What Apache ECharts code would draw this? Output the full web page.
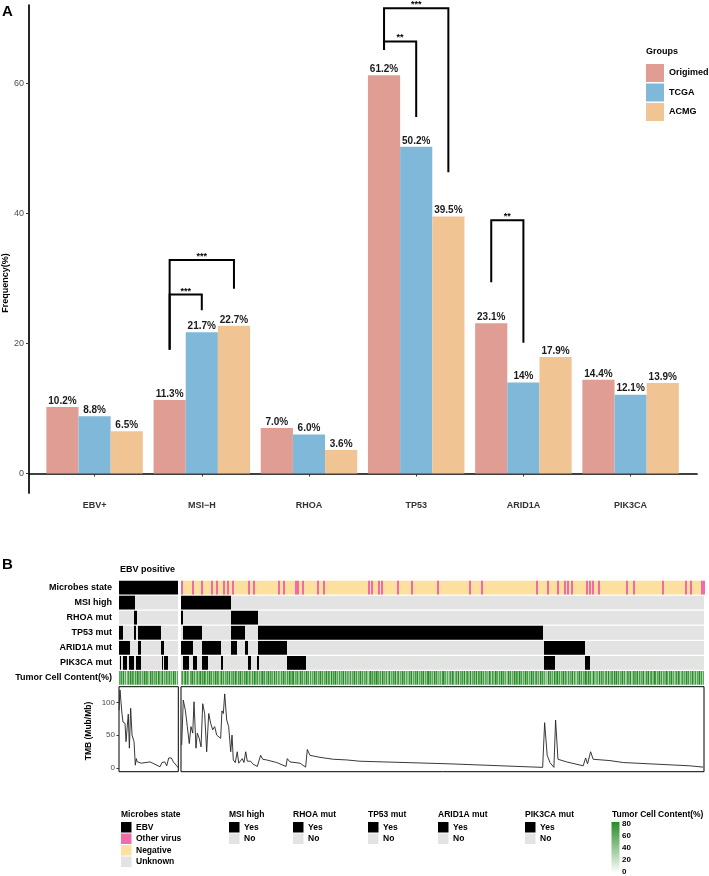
<!DOCTYPE html>
<html><head><meta charset="utf-8">
<script src="https://cdn.jsdelivr.net/npm/echarts@6/dist/echarts.min.js"></script>
<style>html,body{margin:0;padding:0;background:#fff}#c{width:709px;height:876px}</style>
</head><body><div id="c"></div>
<script>
// ---------- Panel A data ----------
const categories = ['EBV+', 'MSI\u2212H', 'RHOA', 'TP53', 'ARID1A', 'PIK3CA'];
const groups = ['Origimed', 'TCGA', 'ACMG'];
const origimed = [10.2, 11.3, 7.0, 61.2, 23.1, 14.4];
const tcga = [8.8, 21.7, 6.0, 50.2, 14.0, 12.1];
const acmg = [6.5, 22.7, 3.6, 39.5, 17.9, 13.9];
const origimedLabels = ['10.2%', '11.3%', '7.0%', '61.2%', '23.1%', '14.4%'];
const tcgaLabels = ['8.8%', '21.7%', '6.0%', '50.2%', '14%', '12.1%'];
const acmgLabels = ['6.5%', '22.7%', '3.6%', '39.5%', '17.9%', '13.9%'];
const freqTicks = [0, 20, 40, 60];
// [category, fromGroup, toGroup, leftLegEnd, top, rightLegEnd, label]
const brackets = [
  [1, 0, 1, 19.0, 27.5, 25.1, '***'],
  [1, 0, 2, 19.0, 32.8, 28.4, '***'],
  [3, 0, 1, 65.1, 66.4, 54.8, '**'],
  [3, 0, 2, 65.1, 71.5, 46.3, '***'],
  [4, 0, 1, 29.4, 38.9, 20.1, '**']
];

// ---------- Panel B data ----------
const rowNames = ['Microbes state', 'MSI high', 'RHOA mut', 'TP53 mut', 'ARID1A mut', 'PIK3CA mut', 'Tumor Cell Content(%)'];
const nEBV = 60;
const nRest = 530;
const msiEBV = [[0, 16]];
const msiRest = [[0, 51]];
const rhoaEBV = [[15, 18]];
const rhoaRest = [[0, 2], [51, 78]];
const tp53EBV = [[0, 4], [15, 17], [19, 43]];
const tp53Rest = [[2, 21], [51, 65], [78, 367]];
const arid1aEBV = [[0, 11], [19, 22], [43, 46]];
const arid1aRest = [[0, 12], [21, 41], [51, 57], [65, 68], [78, 107], [368, 409]];
const pik3caEBV = [[1, 2], [4, 8], [10, 15], [17, 22], [44, 45], [46, 50]];
const pik3caRest = [[2, 8], [12, 16], [21, 27], [41, 43], [68, 71], [77, 79], [107, 127], [368, 379], [409, 414]];
const otherVirusRest = [0, 11, 20, 30, 35, 43, 47, 52, 68, 73, 98, 103, 116, 118, 123, 138, 144, 190, 193, 200, 203, 219,
  233, 259, 292, 304, 360, 371, 381, 388, 391, 395, 410, 413, 416, 423, 451, 458, 487, 511, 516, 527, 529];
// tumor cell content per sample, in tens of percent
const tumorEBV = '6574836257485763748657364857643857465738647583647557463857' + '26';
const tumorRest = [
  '5736847526', '6847357468', '4758637485', '7364857463', '5847365748', '3657486375', '8463758647', '5374865736',
  '4685736584', '7563847365', '3748563748', '6574836574', '4857364857', '2736485736', '5847365847', '6384758463',
  '7465837465', '4736584736', '5847365748', '3685747586', '6473856473', '5836475836', '7364857364', '4758364758',
  '3647583647', '8574638574', '5463748563', '6357486357', '4836574836', '7548365748', '3765847365', '5486375486',
  '6374857463', '4857364857', '2648573648', '5736485736', '7463857463', '4385746385', '6847365847', '5374658374',
  '3658473658', '7485736485', '4563847563', '6738456738', '5847365847', '3476583476', '6583746583', '4758367458',
  '7365847365', '5846375846', '3574863574', '6485736485', '4736584736'
].join('');
// TMB (Mut/Mb) line vertices: [sample position, value]
const tmbEBV = [[0, 88], [1, 119], [3, 83], [4, 70], [6.1, 68], [7.1, 40], [8.4, 42], [9.4, 82], [10.5, 30], [11.8, 91],
  [13.2, 50], [15.2, 40], [16.5, 4], [17.5, 14], [18.5, 9], [19.9, 12], [22.6, 7], [23.6, 10], [31.4, 9], [41.5, 1.5],
  [43.5, 8], [44.9, 6], [46.3, 9], [48.3, 3], [50.3, 15], [53, 15], [55, 9], [58.4, 3], [60, 0]];
const tmbRest = [[0.7, 35], [2.3, 103.5], [4.4, 88], [6.4, 63], [8.4, 37], [10.1, 63], [11.9, 53], [13.2, 101], [15.2, 30],
  [16.5, 53], [18.5, 45], [20.3, 32], [22, 98], [24, 83], [26, 24.5], [28.1, 83], [30.1, 68], [32.1, 58], [34.1, 63],
  [36.2, 50], [38.2, 47], [40.2, 45], [41.5, 87], [42.9, 83], [44.3, 113], [46.3, 73], [48.3, 63], [50.4, 24.5], [51.7, 50],
  [53, 12], [55, 8], [57, 24.5], [58.5, 7], [59.8, 4], [62.1, 14], [63.8, 8], [65.6, 24.5], [67.2, 10], [69.2, 8],
  [70.6, 10], [72.6, 6], [75, 4], [77.3, 2], [80.7, 19], [82.8, 13], [86.8, 12], [97, 8], [106.4, 2], [107.7, 14],
  [110.4, 9], [120.6, 7], [126.3, 1], [128, 28], [130.7, 19], [140.8, 16], [154.3, 13], [167.9, 12], [181.4, 10],
  [205, 9], [272.5, 6], [366.5, 0.6], [368.5, 69], [371.1, 19], [373.9, 8], [377.9, 0.6], [379.6, 73], [382, 13],
  [390.8, 9], [407.6, 3], [410, 15], [412, 6], [415.1, 24.5], [417.7, 13], [434.7, 11], [448.1, 8], [475.2, 6],
  [515.7, 3], [529.2, 1]];
const tmbTicks = [0, 50, 100];
const tumorTicks = [80, 60, 40, 20, 0];

// ---------- styles ----------
const FONT = '"Liberation Sans", Arial, sans-serif';
const groupColors = ['#DF9D94', '#80B8DA', '#F1C493'];
const BLACK = '#000000', GREY = '#E3E3E3', PINK = '#F26AA8', YELLOW = '#FDDF9E';
const GREEN_MAX = [38, 140, 38];
function tumorColor(v) {
  const t = Math.max(0, Math.min(1, v / 80));
  const c = [0, 1, 2].map(i => Math.round(255 + (GREEN_MAX[i] - 255) * t));
  return 'rgb(' + c.join(',') + ')';
}

function segItems(row, segs, color) { return segs.map(s => ({ value: [s[0], row, s[1]], itemStyle: { color } })); }
function buildBlock(n, microbes, msi, rhoa, tp53, arid, pik, tumorStr) {
  let items = [];
  items = items.concat(microbes);
  const rows = [msi, rhoa, tp53, arid, pik];
  rows.forEach((segs, k) => {
    items = items.concat(segItems(k + 1, [[0, n]], GREY));
    items = items.concat(segItems(k + 1, segs, BLACK));
  });
  tumorStr.split('').forEach((d, i) => {
    items.push({ value: [i, 6, i + 1], itemStyle: { color: tumorColor(+d * 10) } });
  });
  return items;
}
const microbesEBV = segItems(0, [[0, nEBV]], BLACK);
const microbesRest = segItems(0, [[0, nRest]], YELLOW).concat(segItems(0, otherVirusRest.map(i => [i, i + 1]), PINK));
const heatEBV = buildBlock(nEBV, microbesEBV, msiEBV, rhoaEBV, tp53EBV, arid1aEBV, pik3caEBV, tumorEBV);
const heatRest = buildBlock(nRest, microbesRest, msiRest, rhoaRest, tp53Rest, arid1aRest, pik3caRest, tumorRest);

function renderCell(params, api) {
  const s = api.value(0), row = api.value(1), e = api.value(2);
  const p1 = api.coord([s, row]), p2 = api.coord([e, row]);
  const h = api.size([0, 1])[1];
  const minW = row === 0 ? 2 : 1;
  const x1 = Math.round(p1[0]), x2 = Math.max(Math.round(p2[0]), x1 + minW);
  return {
    type: 'rect',
    shape: { x: x1, y: p1[1] - h / 2 + 0.65, width: x2 - x1, height: h - 1.3 },
    style: { fill: api.visual('color') }
  };
}

// ---------- legends (graphic) ----------
const legendDefs = [
  { title: 'Microbes state', x: 121, items: [['EBV', BLACK], ['Other virus', PINK], ['Negative', YELLOW], ['Unknown', GREY]] },
  { title: 'MSI high', x: 229, items: [['Yes', BLACK], ['No', GREY]] },
  { title: 'RHOA mut', x: 293, items: [['Yes', BLACK], ['No', GREY]] },
  { title: 'TP53 mut', x: 368, items: [['Yes', BLACK], ['No', GREY]] },
  { title: 'ARID1A mut', x: 438, items: [['Yes', BLACK], ['No', GREY]] },
  { title: 'PIK3CA mut', x: 525, items: [['Yes', BLACK], ['No', GREY]] }
];
const graphics = [];
function txt(text, x, y, font, opts) {
  return Object.assign({ type: 'text', x: x, y: y, silent: true,
    style: Object.assign({ text: text, font: font, fill: '#000', textAlign: 'left', textVerticalAlign: 'middle' }, (opts && opts.style) || {}) },
    (opts && opts.el) || {});
}
graphics.push(txt('A', 2, 12, 'bold 15px ' + FONT));
graphics.push(txt('B', 2, 565, 'bold 15px ' + FONT));
graphics.push(txt('Frequency(%)', 6, 283, 'bold 9px ' + FONT, { style: { textAlign: 'center' }, el: { rotation: Math.PI / 2 } }));
graphics.push(txt('Groups', 646, 52, 'bold 9px ' + FONT));
graphics.push(txt('EBV positive', 120, 570, 'bold 9px ' + FONT));
graphics.push(txt('TMB (Mub/Mb)', 89, 731, 'bold 8.5px ' + FONT, { style: { textAlign: 'center' }, el: { rotation: Math.PI / 2 } }));
const TITLE_Y = 815, LEG_TOP = 822, LEG_PITCH = 11.5, KEY = 10.5;
legendDefs.forEach(d => {
  graphics.push(txt(d.title, d.x, TITLE_Y, 'bold 8.5px ' + FONT));
  d.items.forEach((it, k) => {
    graphics.push({ type: 'rect', silent: true, shape: { x: d.x, y: LEG_TOP + k * LEG_PITCH, width: KEY, height: KEY }, style: { fill: it[1] } });
    graphics.push(txt(it[0], d.x + 15, LEG_TOP + k * LEG_PITCH + KEY / 2, 'bold 8.5px ' + FONT));
  });
});
graphics.push(txt('Tumor Cell Content(%)', 612, TITLE_Y, 'bold 8.5px ' + FONT));
graphics.push({ type: 'rect', silent: true, shape: { x: 611.5, y: 822, width: 8, height: 51 },
  style: { fill: new echarts.graphic.LinearGradient(0, 0, 0, 1, [{ offset: 0, color: tumorColor(80) }, { offset: 1, color: '#FFFFFF' }]) } });
tumorTicks.forEach((v, k) => {
  const y = 823.5 + (80 - v) / 80 * 48;
  graphics.push(txt(String(v), 622, y, 'bold 8px ' + FONT));
});

// ---------- chart ----------
const chart = echarts.init(document.getElementById('c'), null, { renderer: 'canvas' });
const hiddenVal = (min, max, gi) => ({ type: 'value', gridIndex: gi, min: min, max: max, show: false });
const barLabel = labels => ({ show: true, position: 'top', distance: 1, formatter: p => labels[p.dataIndex],
  fontSize: 10, fontWeight: 'bold', color: '#1a1a1a', fontFamily: FONT });

chart.setOption({
  animation: false,
  textStyle: { fontFamily: FONT },
  grid: [
    { left: 29, top: 5, width: 668, height: 488 },
    { left: 41, top: 5, width: 643.2, height: 488 },
    { left: 119, top: 580, width: 59.3, height: 105.5 },
    { left: 181, top: 580, width: 523, height: 105.5 },
    { left: 119, top: 686.7, width: 59.3, height: 85, show: true, borderColor: '#000', borderWidth: 1 },
    { left: 181, top: 686.7, width: 523, height: 85, show: true, borderColor: '#000', borderWidth: 1 }
  ],
  legend: {
    data: groups, orient: 'vertical', left: 646, top: 64, itemWidth: 18, itemHeight: 18, itemGap: 1.5,
    icon: 'rect', padding: 0, selectedMode: false,
    textStyle: { fontSize: 9, fontWeight: 'bold', color: '#000', fontFamily: FONT }
  },
  xAxis: [
    { type: 'value', gridIndex: 0, min: 0, max: 1, axisLine: { show: true, lineStyle: { color: '#000', width: 1.7 } },
      axisTick: { show: false }, axisLabel: { show: false }, splitLine: { show: false } },
    { type: 'category', gridIndex: 1, data: categories, axisLine: { show: false },
      axisTick: { show: true, alignWithLabel: true, length: 3, lineStyle: { color: '#333', width: 1 } },
      axisLabel: { fontSize: 9, fontWeight: 'bold', color: '#333', margin: 8 } },
    hiddenVal(0, nEBV, 2), hiddenVal(0, nRest, 3), hiddenVal(0, nEBV, 4), hiddenVal(0, nRest, 5)
  ],
  yAxis: [
    { type: 'value', gridIndex: 0, min: -3, max: 72, axisLine: { show: true, lineStyle: { color: '#000', width: 1.7 } },
      axisTick: { show: true, length: 3, customValues: freqTicks, lineStyle: { color: '#333' } },
      axisLabel: { customValues: freqTicks, fontSize: 9, color: '#4d4d4d', margin: 5 }, splitLine: { show: false } },
    hiddenVal(-3, 72, 1),
    { type: 'category', gridIndex: 2, data: rowNames, inverse: true, axisLine: { show: false }, axisTick: { show: false },
      axisLabel: { fontSize: 9, fontWeight: 'bold', color: '#000', margin: 7 } },
    { type: 'category', gridIndex: 3, data: rowNames, inverse: true, show: false },
    { type: 'value', gridIndex: 4, min: -6, max: 124, axisLine: { show: false },
      axisTick: { show: true, length: 2.5, customValues: tmbTicks, lineStyle: { color: '#333' } },
      axisLabel: { customValues: tmbTicks, fontSize: 8, color: '#4d4d4d', margin: 4 }, splitLine: { show: false } },
    hiddenVal(-6, 124, 5)
  ],
  series: [
    { name: groups[0], type: 'bar', xAxisIndex: 1, yAxisIndex: 1, data: origimed, barWidth: '30%', barGap: '0%',
      itemStyle: { color: groupColors[0] }, label: barLabel(origimedLabels) },
    { name: groups[1], type: 'bar', xAxisIndex: 1, yAxisIndex: 1, data: tcga, barWidth: '30%', barGap: '0%',
      itemStyle: { color: groupColors[1] }, label: barLabel(tcgaLabels) },
    { name: groups[2], type: 'bar', xAxisIndex: 1, yAxisIndex: 1, data: acmg, barWidth: '30%', barGap: '0%',
      itemStyle: { color: groupColors[2] }, label: barLabel(acmgLabels) },
    { type: 'custom', xAxisIndex: 1, yAxisIndex: 1, clip: false, z: 5,
      data: brackets.map(b => [b[0], b[3], b[4], b[5], b[1], b[2]]),
      renderItem: function (params, api) {
        const cat = api.value(0), yL = api.value(1), yT = api.value(2), yR = api.value(3);
        const gFrom = api.value(4), gTo = api.value(5);
        const band = api.size([1, 0])[0];
        const cL = api.coord([cat, yL]), cT = api.coord([cat, yT]), cR = api.coord([cat, yR]);
        const x1 = cL[0] + (gFrom - 1) * 0.3 * band, x2 = cL[0] + (gTo - 1) * 0.3 * band;
        return { type: 'group', children: [
          { type: 'polyline', shape: { points: [[x1, cL[1]], [x1, cT[1]], [x2, cT[1]], [x2, cR[1]]] },
            style: { stroke: '#000', lineWidth: 2, fill: null } },
          { type: 'text', style: { text: brackets[params.dataIndex][6], x: (x1 + x2) / 2, y: cT[1] + 1,
            textAlign: 'center', textVerticalAlign: 'bottom', font: 'bold 9px ' + FONT, fill: '#000' } }
        ] };
      } },
    { type: 'custom', xAxisIndex: 2, yAxisIndex: 2, data: heatEBV, renderItem: renderCell, silent: true, progressive: 0 },
    { type: 'custom', xAxisIndex: 3, yAxisIndex: 3, data: heatRest, renderItem: renderCell, silent: true, progressive: 0 },
    { type: 'line', xAxisIndex: 4, yAxisIndex: 4, data: tmbEBV, showSymbol: false, silent: true,
      lineStyle: { color: '#222', width: 0.9 } },
    { type: 'line', xAxisIndex: 5, yAxisIndex: 5, data: tmbRest, showSymbol: false, silent: true,
      lineStyle: { color: '#222', width: 0.9 } }
  ],
  graphic: graphics
});
</script>
</body></html>
